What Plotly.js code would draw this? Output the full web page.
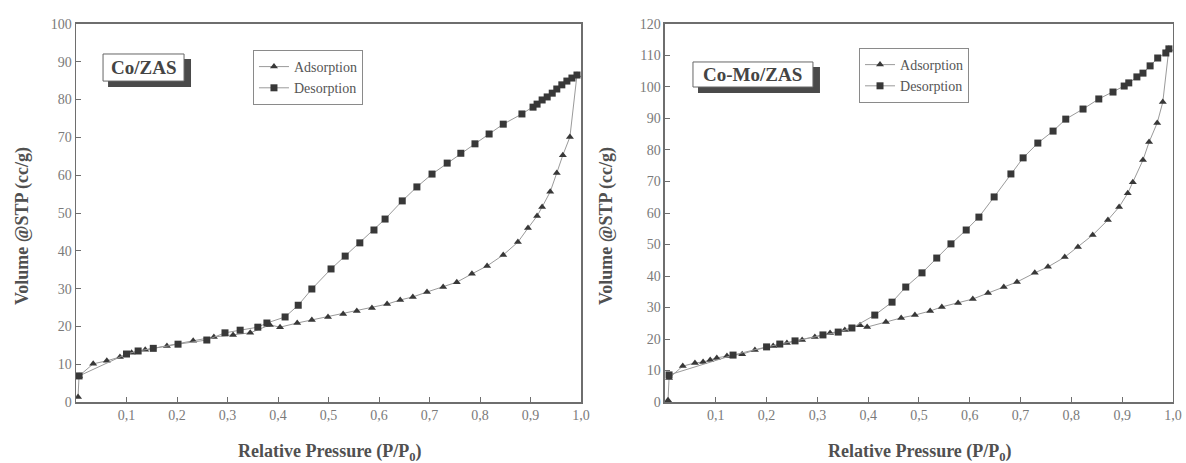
<!DOCTYPE html>
<html>
<head>
<meta charset="utf-8">
<script src="https://cdn.plot.ly/plotly-3.0.1.min.js"></script>
<style>html,body{margin:0;padding:0;background:#fff;}#chart{width:1186px;height:463px;}</style>
</head>
<body>
<div id="chart"></div>
<script>
// ---- Data (P/P0, volume cc/g) ----
const panelLabels = ["Co/ZAS", "Co-Mo/ZAS"];
const seriesNames = ["Adsorption", "Desorption"];
const xTickVals = [0.1, 0.2, 0.3, 0.4, 0.5, 0.6, 0.7, 0.8, 0.9, 1.0];

// Co/ZAS
const adsX_L = [0.004,0.006,0.034,0.061,0.087,0.11,0.137,0.18,0.232,0.273,0.311,0.345,0.384,0.404,0.438,0.467,0.499,0.529,0.556,0.586,0.616,0.642,0.667,0.695,0.727,0.754,0.784,0.814,0.846,0.875,0.895,0.913,0.923,0.939,0.952,0.964,0.978,0.992];
const adsY_L = [1.3,6.9,10.1,10.9,11.9,13.0,13.8,14.8,16.2,17.2,17.7,18.3,20.4,19.8,20.9,21.7,22.5,23.3,24.1,24.9,25.9,27.0,27.8,29.1,30.4,31.7,33.9,36.0,38.9,42.3,46.0,49.2,51.6,55.6,60.6,65.3,70.1,86.5];
const desX_L = [0.006,0.1,0.123,0.153,0.202,0.259,0.295,0.325,0.36,0.378,0.414,0.44,0.467,0.505,0.533,0.562,0.59,0.612,0.646,0.675,0.705,0.735,0.762,0.79,0.818,0.846,0.883,0.905,0.913,0.923,0.933,0.943,0.952,0.962,0.972,0.982,0.992];
const desY_L = [6.9,12.7,13.5,14.2,15.3,16.4,18.3,19.0,19.8,20.9,22.5,25.6,29.9,35.2,38.6,42.1,45.5,48.4,53.2,56.9,60.3,63.2,65.8,68.3,70.9,73.5,76.2,78.0,78.8,79.9,80.7,81.7,82.8,83.9,84.9,85.7,86.5];

// Co-Mo/ZAS
const adsX_R = [0.006,0.008,0.035,0.059,0.075,0.089,0.102,0.122,0.152,0.177,0.213,0.24,0.27,0.295,0.325,0.354,0.384,0.398,0.435,0.465,0.492,0.522,0.545,0.577,0.606,0.636,0.667,0.693,0.728,0.754,0.787,0.813,0.842,0.872,0.894,0.911,0.921,0.941,0.953,0.969,0.98,0.992];
const adsY_R = [0.6,7.6,11.4,12.4,12.7,13.3,14.0,14.6,15.2,16.5,17.8,18.7,19.7,20.6,21.9,22.9,24.4,23.8,25.4,26.7,27.6,28.9,30.2,31.4,32.7,34.6,36.5,38.1,41.0,42.9,46.0,49.2,53.0,57.8,61.9,66.3,69.8,76.8,82.5,88.6,95.2,112.1];
const desX_R = [0.008,0.134,0.2,0.226,0.256,0.311,0.341,0.368,0.413,0.447,0.474,0.506,0.535,0.563,0.593,0.618,0.648,0.681,0.705,0.734,0.764,0.789,0.823,0.854,0.882,0.904,0.913,0.929,0.941,0.955,0.97,0.986,0.992];
const desY_R = [8.6,14.9,17.5,18.4,19.4,21.3,22.2,23.5,27.6,31.7,36.5,41.0,45.7,50.2,54.6,58.7,65.1,72.4,77.5,82.2,86.0,89.8,93.0,96.2,98.4,100.3,101.3,103.2,104.4,106.7,109.2,110.8,112.1];

// ---- Styling ----
const SERIF = "Liberation Serif, Times New Roman, serif";
const markerColor = "#383838";
const lineColor = "#9a9a9a";
const axisColor = "#6e6e6e";

function trace(x, y, name, symbol, xa, ya, legend) {
  return {
    x: x, y: y, name: name, type: "scatter", mode: "lines+markers",
    xaxis: xa, yaxis: ya, legend: legend,
    line: {color: lineColor, width: 1},
    marker: {symbol: symbol, size: 7, color: markerColor}
  };
}

const data = [
  trace(adsX_L, adsY_L, seriesNames[0], "triangle-up", "x", "y", "legend"),
  trace(desX_L, desY_L, seriesNames[1], "square", "x", "y", "legend"),
  trace(adsX_R, adsY_R, seriesNames[0], "triangle-up", "x2", "y2", "legend2"),
  trace(desX_R, desY_R, seriesNames[1], "square", "x2", "y2", "legend2")
];

function xAxis(domain, anchor) {
  return {
    domain: domain, anchor: anchor, range: [0, 1.0],
    tickvals: xTickVals, tickformat: ".1f",
    ticks: "inside", ticklen: 5, tickcolor: axisColor, tickwidth: 1,
    showline: true, linecolor: axisColor, linewidth: 1.5, mirror: true,
    showgrid: false, zeroline: false,
    tickfont: {family: SERIF, size: 14, color: "#7a7a7a"}
  };
}
function yAxis(domain, anchor, max) {
  return {
    domain: domain, anchor: anchor, range: [0, max], dtick: 10,
    ticks: "inside", ticklen: 5, tickcolor: axisColor, tickwidth: 1,
    showline: true, linecolor: axisColor, linewidth: 1.5, mirror: true,
    showgrid: false, zeroline: false,
    tickfont: {family: SERIF, size: 14, color: "#7a7a7a"}
  };
}

const yDom = [0.1317, 0.9482];
const legendStyle = (x, y) => ({
  x: x, y: y, xref: "paper", yref: "paper", xanchor: "left", yanchor: "top",
  bgcolor: "rgba(255,255,255,0.9)", bordercolor: "#8a8a8a", borderwidth: 1,
  font: {family: SERIF, size: 14, color: "#555"},
  itemwidth: 30, tracegroupgap: 0
});

function labelAnn(text, xa, x, y) {
  return {
    text: "<b>" + text + "</b>", xref: xa + " domain", yref: (xa === "x" ? "y" : "y2") + " domain",
    x: x, y: y, xanchor: "center", yanchor: "middle", showarrow: false,
    font: {family: SERIF, size: 19, color: "#444"}
  };
}
function rect(xa, x0, x1, y0, y1, fill, lineW) {
  return {
    type: "rect", xref: xa + " domain", yref: (xa === "x" ? "y" : "y2") + " domain",
    x0: x0, x1: x1, y0: y0, y1: y1, fillcolor: fill,
    line: {width: lineW, color: "#666"}, layer: "above"
  };
}

const titleFont = {family: SERIF, size: 18, color: "#505050"};
const layout = {
  width: 1186, height: 463,
  margin: {l: 0, r: 0, t: 0, b: 0},
  paper_bgcolor: "#ffffff", plot_bgcolor: "#ffffff",
  separators: ",.",
  showlegend: true,
  xaxis: xAxis([0.0641, 0.4899], "y"),
  yaxis: yAxis(yDom, "x", 100),
  xaxis2: xAxis([0.5607, 0.9890], "y2"),
  yaxis2: yAxis(yDom, "x2", 120),
  legend: legendStyle(0.2133, 0.892),
  legend2: legendStyle(0.7243, 0.8963),
  shapes: [
    rect("x", 0.0634, 0.2277, 0.8333, 0.9074, "#4a4a4a", 0),
    rect("x", 0.0535, 0.2139, 0.849, 0.9206, "#ffffff", 1),
    rect("x2", 0.0650, 0.3051, 0.8175, 0.8862, "#4a4a4a", 0),
    rect("x2", 0.0551, 0.2913, 0.8333, 0.8995, "#ffffff", 1)
  ],
  annotations: [
    labelAnn(panelLabels[0], "x", 0.1337, 0.885),
    labelAnn(panelLabels[1], "x2", 0.1732, 0.8664),
    {text: "<b>Relative Pressure (P/P<sub>0</sub>)</b>", xref: "paper", yref: "paper",
     x: 330/1186, y: (463-452)/463, xanchor: "center", yanchor: "middle", showarrow: false, font: titleFont},
    {text: "<b>Relative Pressure (P/P<sub>0</sub>)</b>", xref: "paper", yref: "paper",
     x: 920/1186, y: (463-452)/463, xanchor: "center", yanchor: "middle", showarrow: false, font: titleFont},
    {text: "<b>Volume @STP (cc/g)</b>", xref: "paper", yref: "paper", textangle: -90,
     x: 22/1186, y: (463-226)/463, xanchor: "center", yanchor: "middle", showarrow: false, font: titleFont},
    {text: "<b>Volume @STP (cc/g)</b>", xref: "paper", yref: "paper", textangle: -90,
     x: 606/1186, y: (463-226)/463, xanchor: "center", yanchor: "middle", showarrow: false, font: titleFont}
  ]
};

Plotly.newPlot("chart", data, layout, {displayModeBar: false, staticPlot: true});
</script>
</body>
</html>
